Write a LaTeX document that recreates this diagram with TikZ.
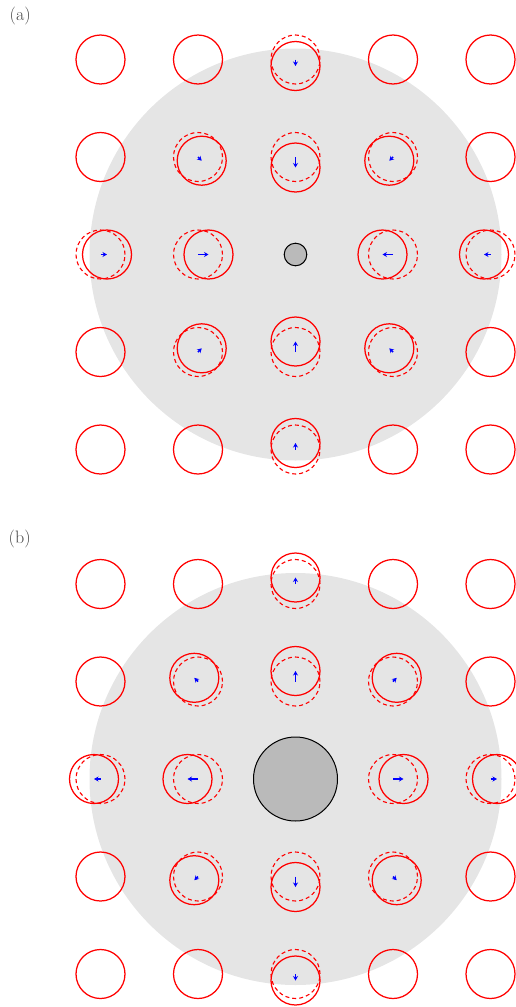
\documentclass[tikz,border=0pt]{standalone}
\usetikzlibrary{arrows.meta,calc}
\definecolor{discfill}{RGB}{229,229,229}
\definecolor{inclfill}{RGB}{186,186,186}
\definecolor{labcol}{RGB}{70,70,70}
\begin{document}
\begin{tikzpicture}[x=1pt,y=-1pt,
  site/.style={draw=red,line width=1.25pt},
  orig/.style={draw=red,line width=1.1pt,dash pattern=on 4pt off 3pt},
  disp/.style={draw=blue,line width=1.5pt,-{Stealth[length=4.5pt,width=5pt]}},
  incl/.style={circle,draw=black,line width=1pt,fill=inclfill,inner sep=0pt},
  lbl/.style={anchor=base west,inner sep=0pt,text=labcol,font=\fontsize{18}{20}\selectfont}]
\useasboundingbox (0,0) rectangle (516,1007);
\node[lbl] (la) at (9.5,20.5) {(a)};
\node[lbl] (lb) at (8.5,543.5) {(b)};
\foreach \cy/\s/\ri/\p in {254.5/-1/22.6/a,779/1/84/b}{
  \fill[discfill] (295.5,\cy) circle[radius=206pt];
  \node[incl,minimum size=\ri pt] (\p-incl) at (295.5,\cy) {};
  \foreach \i in {-2,...,2}{
    \foreach \j in {-2,...,2}{
      \pgfmathtruncatemacro\rr{\i*\i+\j*\j}
      \ifnum\rr>0
        \pgfmathsetmacro\f{ifthenelse(\rr==1,10.5,ifthenelse(\rr==2,3.7,ifthenelse(\rr==4,3.25,0)))}
        \pgfmathsetmacro\u{\s*\f*\i}
        \pgfmathsetmacro\v{\s*\f*\j}
        \coordinate (\p s\i s\j) at (295.5+97.5*\i,\cy+97.5*\j);
        \ifdim\f pt>0pt
          \coordinate (\p d\i d\j) at ($(\p s\i s\j)+(\u,\v)$);
          \draw[orig] (\p s\i s\j) circle[radius=24.5pt];
          \draw[site] (\p d\i d\j) circle[radius=24.5pt];
          \draw[disp] (\p s\i s\j) -- (\p d\i d\j);
        \else
          \draw[site] (\p s\i s\j) circle[radius=24.5pt];
        \fi
      \fi
    }
  }
}
\end{tikzpicture}
\end{document}
